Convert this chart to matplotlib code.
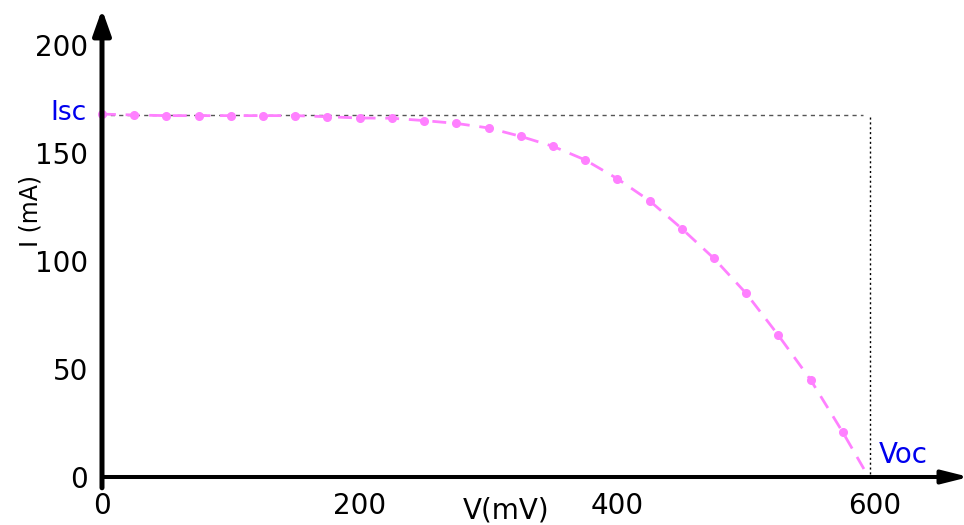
import matplotlib
matplotlib.use("Agg")

import matplotlib.pyplot as plt

# I-V curve
voltage_mv = [0, 25, 50, 75, 100, 125, 150, 175, 200, 225, 250, 275, 300,
              325, 350, 375, 400, 425, 450, 475, 500, 525, 550, 575, 595]
current_ma = [168.0, 167.6, 167.3, 167.3, 167.3, 167.3, 167.3, 166.8, 166.2,
              166.1, 165.0, 163.7, 161.6, 157.7, 153.1, 146.8, 138.1, 127.9,
              115.0, 101.2, 85.0, 65.6, 45.0, 20.7, 0.0]
isc_ma = 167.6
voc_mv = 596

x_ticks = [0, 200, 400, 600]
y_ticks = [0, 50, 100, 150, 200]

CURVE = "#ff80ff"
BLUE = "#0000ee"

plt.rcParams["font.family"] = "DejaVu Sans"

fig = plt.figure(figsize=(9.64, 5.25), dpi=100)
ax = fig.add_axes([102 / 964, 48 / 525, 773 / 964, 432 / 525])
ax.set_xlim(0, 600)
ax.set_ylim(0, 200)
for s in ax.spines.values():
    s.set_visible(False)

ax.set_xticks(x_ticks)
ax.set_yticks(y_ticks)
ax.tick_params(length=0, labelsize=20, colors="black")
ax.tick_params(axis="x", pad=11)
ax.tick_params(axis="y", pad=10)

# Isc / Voc guides
ax.plot([0, voc_mv - 5], [isc_ma, isc_ma], color="#555555", lw=1,
        dashes=(3, 3), zorder=2)
ax.plot([voc_mv, voc_mv], [isc_ma - 1, 0], color="black", lw=1,
        dashes=(1.5, 2), zorder=2)

# measured curve
ax.plot(voltage_mv, current_ma, color=CURVE, lw=2, dashes=(5, 3.5),
        marker="o", markersize=5.5, markevery=list(range(len(voltage_mv) - 1)),
        zorder=3, clip_on=False)

# axes drawn as arrows
ax.annotate("", xy=(673, 0), xytext=(0, 0), annotation_clip=False,
            arrowprops=dict(arrowstyle="-|>,head_length=0.8,head_width=0.2",
                            mutation_scale=20, lw=2.9, color="black",
                            shrinkA=0, shrinkB=0), zorder=5)
ax.annotate("", xy=(0, 216.5), xytext=(0, -5), annotation_clip=False,
            arrowprops=dict(arrowstyle="-|>,head_length=0.76,head_width=0.27",
                            mutation_scale=20, lw=3.6, color="black",
                            shrinkA=0, shrinkB=0), zorder=5)

ax.text(-12, isc_ma + 1, "Isc", color=BLUE, fontsize=19, ha="right",
        va="center")
ax.text(603, 10, "Voc", color=BLUE, fontsize=20, ha="left", va="center")

ax.set_xlabel("V(mV)", fontsize=20)
ax.xaxis.set_label_coords(0.523, -0.078)
ax.xaxis.label.set_verticalalignment("center")
ax.set_ylabel("I (mA)", fontsize=17)
ax.yaxis.set_label_coords(-0.092, 0.615)
ax.yaxis.label.set_verticalalignment("center")

fig.savefig("out.png", dpi=100)
